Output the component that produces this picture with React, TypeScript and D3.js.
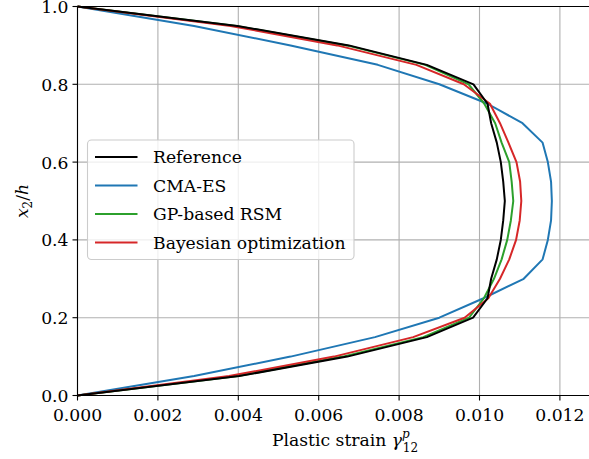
import React from "react";
import * as d3 from "d3";

const heights = [0, 0.05, 0.1, 0.15, 0.2, 0.25, 0.3, 0.35, 0.4, 0.45, 0.5, 0.55, 0.6, 0.65, 0.7, 0.75, 0.8, 0.85, 0.9, 0.95, 1.0];
const referenceStrain = [0, 0.00402, 0.00671, 0.00869, 0.00984, 0.0102, 0.01029, 0.01043, 0.01053, 0.01059, 0.01063, 0.01059, 0.01053, 0.01043, 0.01029, 0.0102, 0.00985, 0.00869, 0.00675, 0.00398, 0];
const cmaesStrain = [0, 0.0029, 0.0053, 0.0074, 0.009, 0.0101, 0.0111, 0.01157, 0.0117, 0.01178, 0.0118, 0.01178, 0.0117, 0.01157, 0.01107, 0.0102, 0.009, 0.00747, 0.0053, 0.0029, 0];
const gpStrain = [0, 0.004, 0.0066, 0.0086, 0.00974, 0.01011, 0.01036, 0.01055, 0.01069, 0.01078, 0.01084, 0.0108, 0.01074, 0.01055, 0.01039, 0.01012, 0.00973, 0.00865, 0.0067, 0.00395, 0];
const bayesStrain = [0, 0.00377, 0.00638, 0.00835, 0.00963, 0.01022, 0.01051, 0.01074, 0.01091, 0.011, 0.01104, 0.01101, 0.01092, 0.01072, 0.01051, 0.01026, 0.00961, 0.00843, 0.00646, 0.00381, 0];

const seriesNames = ["Reference", "CMA-ES", "GP-based RSM", "Bayesian optimization"];
const seriesColors = ["#000000", "#1f77b4", "#2ca02c", "#d62728"];
const seriesValues = [referenceStrain, cmaesStrain, gpStrain, bayesStrain];

const xTicks = [0, 0.002, 0.004, 0.006, 0.008, 0.01, 0.012];
const yTicks = [0, 0.2, 0.4, 0.6, 0.8, 1.0];

const W = 589;
const H = 459;
const FONT = '"DejaVu Serif", serif';

export default function App() {
  const x0 = 77.5;
  const pxPer = 40.2 / 0.001;
  const x = d3.scaleLinear().domain([0, 0.0128]).range([x0, x0 + 0.0128 * pxPer]);
  const y = d3.scaleLinear().domain([0, 1]).range([395.5, 6.5]);
  const line = d3
    .line<[number, number]>()
    .x((d) => x(d[0]))
    .y((d) => y(d[1]));

  const right = x(0.0128);
  const order = [1, 2, 3, 0];
  const fs = 17.2;

  return (
    <svg width={W} height={H} style={{ position: "absolute", left: 0, top: 0, background: "#fff", fontFamily: FONT }}>
      <rect x={0} y={0} width={W} height={H} fill="#fff" />
      {xTicks.map((t) => (
        <line key={"gx" + t} x1={x(t)} x2={x(t)} y1={y(0)} y2={y(1)} stroke="#b0b0b0" strokeWidth={1.1} />
      ))}
      {yTicks.map((t) => (
        <line key={"gy" + t} x1={x(0)} x2={right} y1={y(t)} y2={y(t)} stroke="#b0b0b0" strokeWidth={1.1} />
      ))}
      {order.map((i) => (
        <path
          key={seriesNames[i]}
          d={line(seriesValues[i].map((v, k) => [v, heights[k]] as [number, number])) || ""}
          fill="none"
          stroke={seriesColors[i]}
          strokeWidth={2}
          strokeLinejoin="round"
        />
      ))}
      <line x1={x(0)} x2={x(0)} y1={y(0)} y2={y(1)} stroke="#000" strokeWidth={1.1} />
      <line x1={x(0)} x2={right} y1={y(0)} y2={y(0)} stroke="#000" strokeWidth={1.1} />
      <line x1={x(0)} x2={right} y1={y(1)} y2={y(1)} stroke="#000" strokeWidth={1.1} />
      <line x1={right} x2={right} y1={y(0)} y2={y(1)} stroke="#000" strokeWidth={1.1} />
      {xTicks.map((t) => (
        <g key={"xt" + t}>
          <line x1={x(t)} x2={x(t)} y1={y(0)} y2={y(0) + 5} stroke="#000" strokeWidth={1.1} />
          <text x={x(t)} y={421} textAnchor="middle" fontSize={fs}>
            {t.toFixed(3)}
          </text>
        </g>
      ))}
      {yTicks.map((t) => (
        <g key={"yt" + t}>
          <line x1={x(0) - 5} x2={x(0)} y1={y(t)} y2={y(t)} stroke="#000" strokeWidth={1.1} />
          <text x={x(0) - 9} y={y(t) + 6.5} textAnchor="end" fontSize={fs}>
            {t.toFixed(1)}
          </text>
        </g>
      ))}
      <text x={345} y={446} textAnchor="middle" fontSize={fs}>
        Plastic strain{" "}
        <tspan fontStyle="italic">γ</tspan>
        <tspan fontSize={12} dy={-8} fontStyle="italic">p</tspan>
        <tspan fontSize={12} dx={-7} dy={14}>12</tspan>
      </text>
      <g transform={`translate(28,${y(0.5)}) rotate(-90)`}>
        <text textAnchor="middle" fontSize={fs}>
          <tspan fontStyle="italic">x</tspan>
          <tspan fontSize={12} dy={4}>2</tspan>
          <tspan dy={-4}>/</tspan>
          <tspan fontStyle="italic">h</tspan>
        </text>
      </g>
      <rect x={87.5} y={140} width={266.5} height={119.5} rx={4} fill="#fff" fillOpacity={0.8} stroke="#cccccc" strokeWidth={1.1} />
      {seriesNames.map((name, i) => {
        const ly = 157 + i * 28.5;
        return (
          <g key={"lg" + name}>
            <line x1={95} x2={137.5} y1={ly} y2={ly} stroke={seriesColors[i]} strokeWidth={2} />
            <text x={153} y={ly + 6} fontSize={fs}>
              {name}
            </text>
          </g>
        );
      })}
    </svg>
  );
}
